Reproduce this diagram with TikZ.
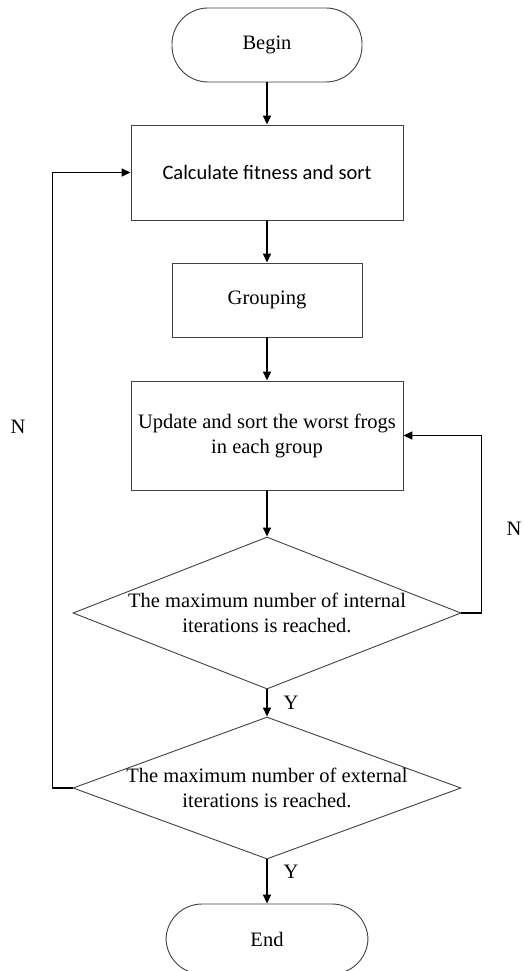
\documentclass[tikz,border=0pt]{standalone}
\usepackage{fontspec}
\setmainfont{Liberation Serif}
\newfontfamily\calibrifont{Carlito}
\usetikzlibrary{shapes.geometric,arrows.meta}
\begin{document}
\begin{tikzpicture}[x=1pt,y=-1pt,
  font=\fontsize{20.5}{25}\selectfont,
  box/.style={draw=black!75,line width=0.9pt,rectangle,align=center,inner sep=0pt},
  term/.style={box,rounded corners=36pt},
  decision/.style={draw=black!75,line width=0.9pt,diamond,inner sep=0pt},
  flow/.style={line width=1.5pt,-{Triangle[length=9pt,width=8pt]}},
  loop/.style={line width=1.5pt,-{Triangle[length=9pt,width=8pt]}}]
\useasboundingbox (0,0) rectangle (524,971);
\node[term,minimum width=190pt,minimum height=74pt] (begin) at (267,45) {Begin};
\node[box,minimum width=272pt,minimum height=95pt] (calc) at (267,172.5) {\calibrifont Calculate fitness and sort};
\node[box,minimum width=190pt,minimum height=74pt] (group) at (267,300) {Grouping};
\node[box,minimum width=272pt,minimum height=109pt] (update) at (267,435.5) {Update and sort the worst frogs\\in each group};
\node[decision,minimum width=388pt,minimum height=152pt,
  label={[align=center]center:The maximum number of internal\\iterations is reached.}] (inner) at (267,613) {};
\node[decision,minimum width=388pt,minimum height=142pt,
  label={[align=center]center:The maximum number of external\\iterations is reached.}] (outer) at (267,788) {};
\node[term,minimum width=202pt,minimum height=70pt] (end) at (267,939) {End};
\node (yin) at (291,703) {Y};
\node (yout) at (291,872) {Y};
\node (nin) at (514,529) {N};
\node (nout) at (18,427) {N};
\draw[flow] (begin) -- (calc);
\draw[flow] (calc) -- (group);
\draw[flow] (group) -- (update);
\draw[flow] (update) -- (inner);
\draw[flow] (inner) -- (outer);
\draw[flow] (outer) -- (end);
\draw[loop] (inner.east) -- ++(20,0) |- (update.east);
\draw[loop] (outer.west) -- ++(-20,0) |- (calc.west);
\end{tikzpicture}
\end{document}
